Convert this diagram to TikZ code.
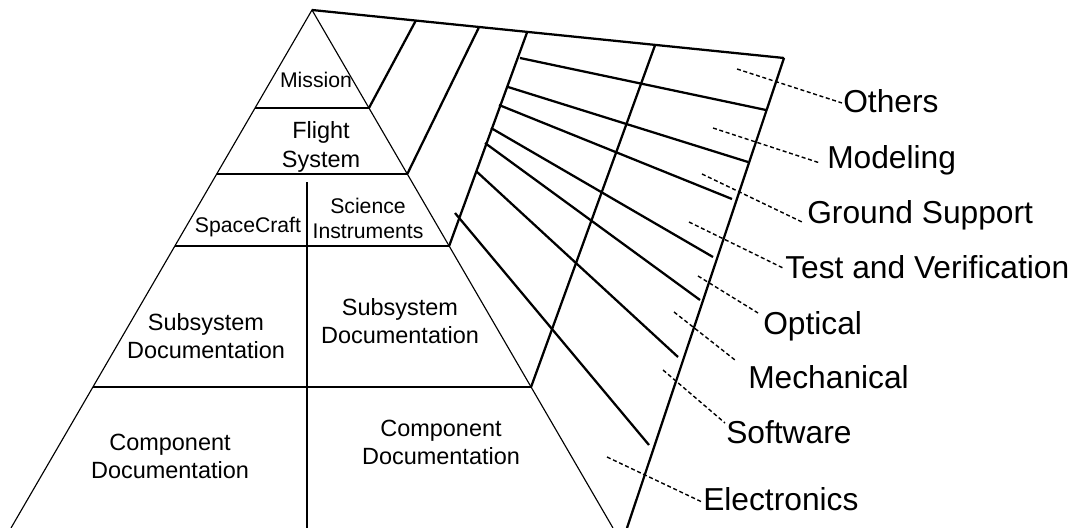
\documentclass[tikz,border=0pt]{standalone}
\usepackage{fontspec}
\setmainfont{Liberation Sans}
\usetikzlibrary{calc}
\tikzset{
  pyredge/.style={line width=0.85pt},
  tierline/.style={line width=1.5pt},
  wall/.style={line width=1.7pt},
  leader/.style={line width=1.05pt, dash pattern=on 3pt off 2pt},
  cell/.style={inner sep=0pt, align=center, font=\fontsize{17.6}{21}\selectfont},
  smallcell/.style={inner sep=0pt, align=center, font=\fontsize{15.9}{18.75}\selectfont},
  catlabel/.style={inner sep=0pt, anchor=base west, font=\fontsize{23.8}{28}\selectfont},
}
\begin{document}
\begin{tikzpicture}[x=0.75pt,y=-0.75pt]
\useasboundingbox (0,0) rectangle (1075,528);

% pyramid outline
\coordinate (apex) at (312,10);
\coordinate (bl) at (11,528);
\coordinate (br) at (613,528);
\draw[pyredge] (bl) -- (apex) -- (br);

% tier boundaries
\coordinate (l1) at ($(apex)!0.1892!(bl)$);
\coordinate (r1) at ($(apex)!0.1892!(br)$);
\coordinate (l2) at ($(apex)!0.3166!(bl)$);
\coordinate (r2) at ($(apex)!0.3166!(br)$);
\coordinate (l3) at ($(apex)!0.4556!(bl)$);
\coordinate (r3) at ($(apex)!0.4556!(br)$);
\coordinate (l4) at ($(apex)!0.7278!(bl)$);
\coordinate (r4) at ($(apex)!0.7278!(br)$);
\draw[tierline] (l1) -- (r1);
\draw[tierline] (l2) -- (r2);
\draw[tierline] (l3) -- (r3);
\draw[tierline] (l4) -- (r4);

% vertical split of the lower tiers
\coordinate (dtop) at (307,182);
\coordinate (dbot) at (307,528);
\draw[tierline] (dtop) -- (dbot);

% receding top edge and side walls
\coordinate (tr) at (784,58);
\coordinate (rb) at (627,528);
\draw[wall] (apex) -- (tr);
\coordinate (t1) at ($(apex)!0.220!(tr)$);
\coordinate (t2) at ($(apex)!0.354!(tr)$);
\coordinate (t3) at ($(apex)!0.456!(tr)$);
\coordinate (t4) at ($(apex)!0.727!(tr)$);
\draw[wall] (r1) -- (t1);
\draw[wall] (r2) -- (t2);
\draw[wall] (r3) -- (t3);
\draw[wall] (r4) -- (t4);
\draw[wall] (rb) -- (tr);

% discipline strips
\coordinate (h1a) at (520,58);  \coordinate (h1b) at (766,110);
\coordinate (h2a) at (508,87);  \coordinate (h2b) at (748,162);
\coordinate (h3a) at (499,105); \coordinate (h3b) at (732,199);
\coordinate (h4a) at (491,128); \coordinate (h4b) at (713,257);
\coordinate (h5a) at (485,143); \coordinate (h5b) at (700,300);
\coordinate (h6a) at (476,171); \coordinate (h6b) at (678,357);
\coordinate (h7a) at (455,213); \coordinate (h7b) at (649,445);
\foreach \i in {1,...,7} \draw[wall] (h\i a) -- (h\i b);

% pyramid labels
\node[smallcell] (mission) at (316,79.5) {Mission};
\node[cell, font=\fontsize{17.6}{21.75}\selectfont] (flight) at (321,146.8) {Flight\\System};
\node[smallcell] (spacecraft) at (248,226.7) {SpaceCraft};
\node[smallcell] (science) at (368,218) {Science\\Instruments};
\node[cell] (subL) at (206,336) {Subsystem\\Documentation};
\node[cell] (subR) at (400,321) {Subsystem\\Documentation};
\node[cell] (compL) at (170,456) {Component\\Documentation};
\node[cell] (compR) at (441,442) {Component\\Documentation};

% discipline labels
\node[catlabel] (others) at (843,113) {Others};
\node[catlabel] (modeling) at (827,168) {Modeling};
\node[catlabel] (ground) at (807,223) {Ground Support};
\node[catlabel] (test) at (785,278) {Test and Verification};
\node[catlabel] (optical) at (763,334) {Optical};
\node[catlabel] (mechanical) at (748,388) {Mechanical};
\node[catlabel] (software) at (726,443) {Software};
\node[catlabel] (electronics) at (703,510) {Electronics};

% leader lines
\coordinate (o1) at (737,69);  \coordinate (o2) at (842,103);
\coordinate (m1) at (713,128); \coordinate (m2) at (820,163);
\coordinate (g1) at (702,174); \coordinate (g2) at (802,222);
\coordinate (v1) at (689,222); \coordinate (v2) at (783,268);
\coordinate (p1) at (698,276); \coordinate (p2) at (758,313);
\coordinate (k1) at (674,312); \coordinate (k2) at (735,360);
\coordinate (s1) at (663,370); \coordinate (s2) at (725,423);
\coordinate (e1) at (607,457); \coordinate (e2) at (702,502);
\draw[leader] (o1) -- (o2);
\draw[leader] (m1) -- (m2);
\draw[leader] (g1) -- (g2);
\draw[leader] (v1) -- (v2);
\draw[leader] (p1) -- (p2);
\draw[leader] (k1) -- (k2);
\draw[leader] (s1) -- (s2);
\draw[leader] (e1) -- (e2);
\end{tikzpicture}
\end{document}
